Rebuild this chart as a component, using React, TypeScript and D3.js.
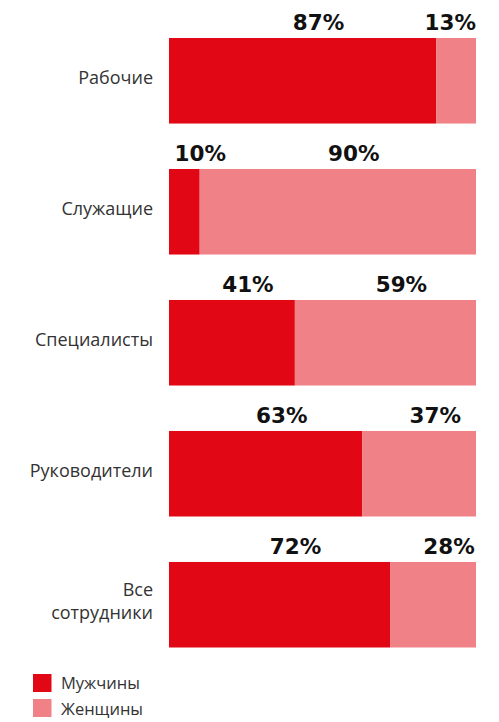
import React, { useEffect, useRef } from "react";
import * as d3 from "d3";

const categories = ["Рабочие", "Служащие", "Специалисты", "Руководители", "Все сотрудники"];
const men = [87, 10, 41, 63, 72];
const women = [13, 90, 59, 37, 28];
const seriesNames = ["Мужчины", "Женщины"];
const colors = ["#e20714", "#f08187"];

const W = 499;
const H = 722;

export default function App() {
  const ref = useRef<SVGSVGElement>(null);

  useEffect(() => {
    const svg = d3.select(ref.current);
    svg.selectAll("*").remove();

    const x = d3.scaleLinear().domain([0, 100]).range([169, 476]);
    const y = d3
      .scaleBand<string>()
      .domain(categories)
      .range([38, 647.5])
      .paddingInner(0.347)
      .paddingOuter(0);

    const data = categories.map((c, i) => ({ c, vals: [men[i], women[i]] }));

    const g = svg.append("g");

    data.forEach((d) => {
      let acc = 0;
      const y0 = y(d.c)!;
      d.vals.forEach((v, si) => {
        const xs = x(acc);
        const xe = x(acc + v);
        g.append("rect")
          .attr("x", xs)
          .attr("y", y0)
          .attr("width", xe - xs)
          .attr("height", y.bandwidth())
          .attr("fill", colors[si]);

        const t = g
          .append("text")
          .text(`${v}%`)
          .attr("y", y0 - 8)
          .attr("font-family", "'DejaVu Sans', Inter, sans-serif")
          .attr("font-weight", 700)
          .attr("font-size", 21.5)
          .attr("fill", "#111");
        const w = (t.node() as SVGTextElement).getComputedTextLength();
        let cx = (xs + xe) / 2 + 16;
        const lo = x(0) + w / 2;
        const hi = x(100) - w / 2;
        cx = Math.max(lo, Math.min(hi, cx));
        t.attr("x", cx).attr("text-anchor", "middle");
        acc += v;
      });

      const lines = d.c.split(" ");
      const cy = y0 + y.bandwidth() / 2;
      const lh = 23;
      const t = g
        .append("text")
        .attr("text-anchor", "end")
        .attr("font-family", "'Open Sans', 'Noto Sans', sans-serif")
        .attr("font-size", 18)
        .attr("fill", "#333");
      lines.forEach((ln, li) => {
        t.append("tspan")
          .attr("x", 153)
          .attr("y", cy + 3 + (li - (lines.length - 1) / 2) * lh)
          .text(ln);
      });
    });

    const leg = svg.append("g");
    seriesNames.forEach((n, i) => {
      leg
        .append("rect")
        .attr("x", 33)
        .attr("y", 674 + i * 25)
        .attr("width", 18.5)
        .attr("height", 18)
        .attr("fill", colors[i]);
      leg
        .append("text")
        .attr("x", 61)
        .attr("y", 689 + i * 26)
        .attr("font-family", "'Open Sans', 'Noto Sans', sans-serif")
        .attr("font-size", 16.5)
        .attr("fill", "#333")
        .text(n);
    });
  }, []);

  return (
    <svg
      ref={ref}
      width={W}
      height={H}
      style={{ position: "absolute", left: 0, top: 0, background: "#fff" }}
    />
  );
}
